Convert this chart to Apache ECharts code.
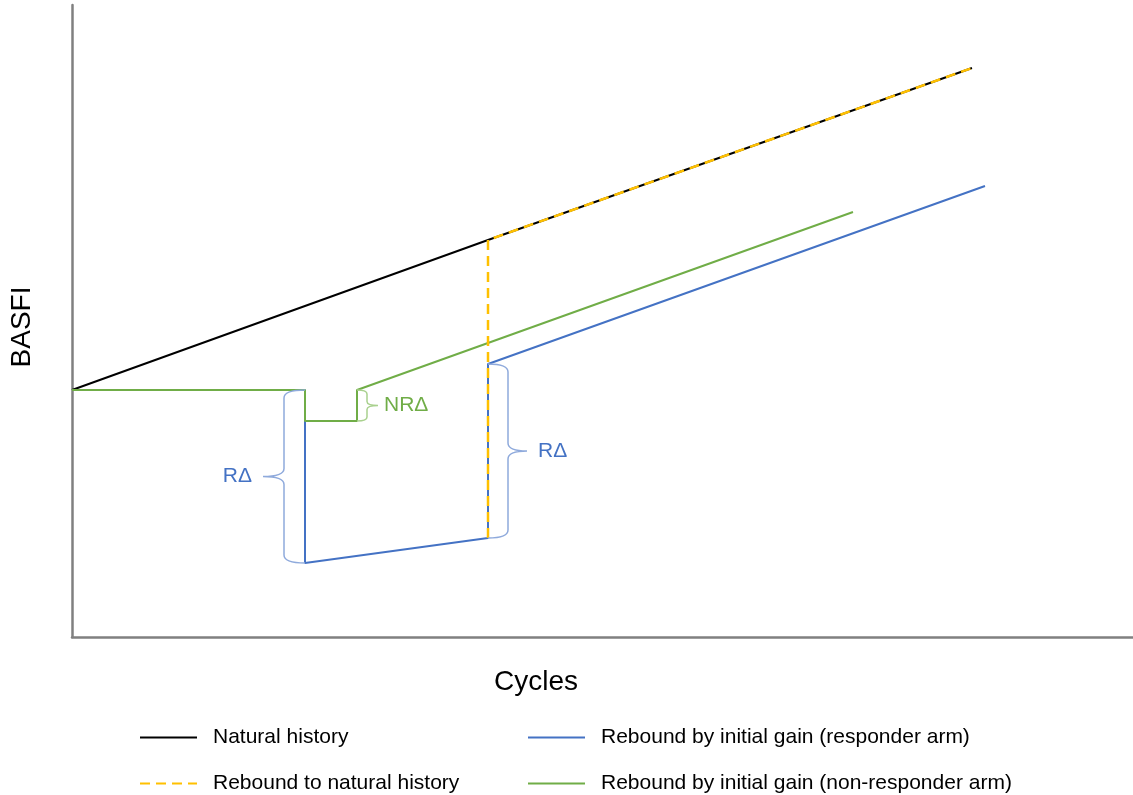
<!DOCTYPE html>
<html>
<head>
<meta charset="utf-8">
<script src="https://cdn.jsdelivr.net/npm/echarts@6/dist/echarts.min.js"></script>
<style>
  html, body { margin: 0; padding: 0; background: #fff; }
  #chart { width: 1133px; height: 795px; }
</style>
</head>
<body>
<div id="chart"></div>
<script>
// ---- data (x: cycles, y: BASFI, conceptual units) ----
const seriesNames = [
  'Natural history',
  'Rebound to natural history',
  'Rebound by initial gain (responder arm)',
  'Rebound by initial gain (non-responder arm)'
];
const naturalHistory = [[0, 24.7], [41.6, 39.7], [90.0, 56.9]];
const reboundNatural = [[41.6, 9.9], [41.6, 39.7], [90.0, 56.9]];
const responderArm = [[0, 24.7], [23.3, 24.7], [23.3, 7.4], [41.6, 9.9], [41.6, 27.3], [91.3, 45.1]];
const nonResponderArm = [[0, 24.7], [23.3, 24.7], [23.3, 21.6], [28.5, 21.6], [28.5, 24.7], [78.1, 42.5]];
const braceLabels = ['R\u0394', 'R\u0394', 'NR\u0394'];

// braces span the gaps between data points: [x, yTop, yBottom]
const braceData = [
  [responderArm[2][0], responderArm[1][1], responderArm[2][1]],
  [responderArm[4][0], responderArm[4][1], responderArm[3][1]],
  [nonResponderArm[4][0], nonResponderArm[4][1], nonResponderArm[3][1]]
];

// ---- styles ----
const FONT = "'Liberation Sans', Arial, sans-serif";
const BLUE = '#4472C4', GREEN = '#70AD47', YELLOW = '#FFC000';
const braceStyle = [
  { side: -1, off: 21, tip: 21, r: 8, color: '#8FAADC', text: BLUE, gap: 11 },
  { side: 1, off: 20, tip: 19, r: 8, color: '#8FAADC', text: BLUE, gap: 11 },
  { side: 1, off: 10, tip: 11, r: 4, color: '#A9D18E', text: GREEN, gap: 6 }
];

function renderBrace(params, api) {
  const s = braceStyle[params.dataIndex];
  const a = api.coord([api.value(0), api.value(1)]);
  const b = api.coord([api.value(0), api.value(2)]);
  const E = a[0];
  const X = E + s.side * s.off;
  const T = X + s.side * s.tip;
  const y1 = a[1], y2 = b[1], ym = (y1 + y2) / 2, r = s.r;
  const d = 'M' + E + ',' + y1 +
    ' Q' + X + ',' + y1 + ' ' + X + ',' + (y1 + r) +
    ' L' + X + ',' + (ym - r) +
    ' Q' + X + ',' + ym + ' ' + T + ',' + ym +
    ' Q' + X + ',' + ym + ' ' + X + ',' + (ym + r) +
    ' L' + X + ',' + (y2 - r) +
    ' Q' + X + ',' + y2 + ' ' + E + ',' + y2;
  return {
    type: 'group',
    children: [
      { type: 'path', shape: { pathData: d },
        style: { fill: null, stroke: s.color, lineWidth: 1.5 } },
      { type: 'text',
        style: { text: braceLabels[params.dataIndex], x: T + s.side * s.gap, y: ym,
          align: s.side < 0 ? 'right' : 'left', verticalAlign: 'middle',
          fill: s.text, font: '21px ' + FONT } }
    ]
  };
}

function legendItem(name, left, top) {
  return {
    data: [name], left: left, top: top, padding: 0,
    itemWidth: 57, itemHeight: 14,
    itemStyle: { opacity: 0 },
    textStyle: { fontSize: 21, color: '#000', fontFamily: FONT, padding: [0, 0, 0, 11] },
    selectedMode: false
  };
}

const chart = echarts.init(document.getElementById('chart'));
chart.setOption({
  animation: false,
  backgroundColor: '#fff',
  textStyle: { fontFamily: FONT },
  title: {
    text: 'Cycles', left: 494, top: 668, padding: 0,
    textStyle: { fontSize: 28, fontWeight: 'normal', color: '#000', fontFamily: FONT }
  },
  legend: [
    legendItem(seriesNames[0], 139, 727),
    legendItem(seriesNames[1], 139, 773),
    legendItem(seriesNames[2], 527, 727),
    legendItem(seriesNames[3], 527, 773)
  ],
  grid: { left: 72, right: 0, top: 5, bottom: 158 },
  xAxis: {
    type: 'value', min: 0, max: 106.1,
    axisLine: { show: true, lineStyle: { color: '#808080', width: 2.5 } },
    axisTick: { show: false }, axisLabel: { show: false }, splitLine: { show: false }
  },
  yAxis: {
    type: 'value', min: 0, max: 63.2,
    name: 'BASFI', nameLocation: 'middle', nameGap: 36,
    nameTextStyle: { fontSize: 28, color: '#000', fontFamily: FONT, padding: [0, 12, 0, 0] },
    axisLine: { show: true, lineStyle: { color: '#808080', width: 2.5 } },
    axisTick: { show: false }, axisLabel: { show: false }, splitLine: { show: false }
  },
  series: [
    { name: seriesNames[0], type: 'line', data: naturalHistory, symbol: 'none', z: 2,
      itemStyle: { color: '#000' }, lineStyle: { color: '#000', width: 2 } },
    { name: seriesNames[2], type: 'line', data: responderArm, symbol: 'none', z: 3,
      itemStyle: { color: BLUE }, lineStyle: { color: BLUE, width: 2 } },
    { name: seriesNames[3], type: 'line', data: nonResponderArm, symbol: 'none', z: 4,
      itemStyle: { color: GREEN }, lineStyle: { color: GREEN, width: 2 } },
    { name: seriesNames[1], type: 'line', data: reboundNatural, symbol: 'none', z: 5,
      itemStyle: { color: YELLOW }, lineStyle: { color: YELLOW, width: 2.5, type: [10, 6] } },
    { type: 'custom', data: braceData, renderItem: renderBrace, z: 6, silent: true,
      encode: { x: 0, y: [1, 2] } }
  ]
});
</script>
</body>
</html>
